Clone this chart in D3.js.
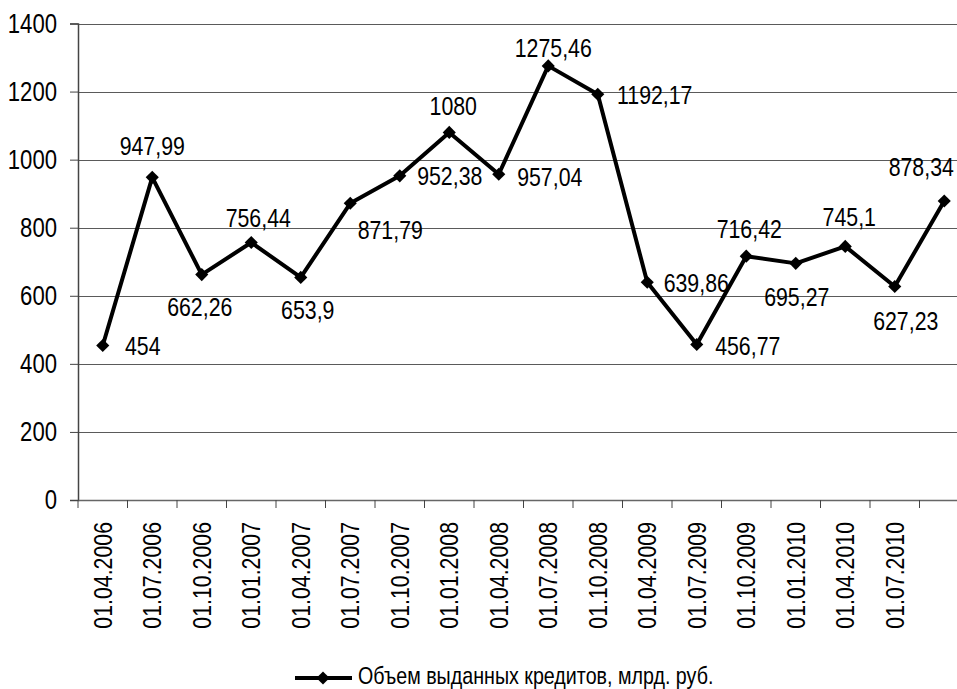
<!DOCTYPE html>
<html lang="ru">
<head>
    <meta charset="UTF-8">
    <script src="https://cdn.jsdelivr.net/npm/d3@7"></script>
    <title>Объем выданных кредитов</title>
    <style>
        body {
            margin: 0;
            background: white;
        }
        text {
            font-family: "Liberation Sans", Arial, sans-serif;
            fill: #000;
        }
    </style>
</head>
<body>
    <div id="chart"></div>
    <script>
        // data
        const dates = ["01.04.2006", "01.07.2006", "01.10.2006", "01.01.2007", "01.04.2007",
            "01.07.2007", "01.10.2007", "01.01.2008", "01.04.2008", "01.07.2008", "01.10.2008",
            "01.04.2009", "01.07.2009", "01.10.2009", "01.01.2010", "01.04.2010", "01.07.2010", ""];
        const values = [454, 947.99, 662.26, 756.44, 653.9, 871.79, 952.38, 1080, 957.04,
            1275.46, 1192.17, 639.86, 456.77, 716.42, 695.27, 745.1, 627.23, 878.34];
        const yTicks = [0, 200, 400, 600, 800, 1000, 1200, 1400];
        const seriesName = "Объем выданных кредитов, млрд. руб.";

        // where each value label sits relative to its point
        const labelShift = [[40, 0], [0, -32], [-2, 32], [7, -25], [7, 32], [40, 26],
            [50, 0], [4, -27], [51, 2], [5, -18], [57, 0], [49, 0], [51, 1],
            [3, -27], [1, 33], [4, -30], [11, 34], [-23, -34]];

        const width = 957, height = 689;
        const margin = { left: 78, top: 23.5, bottom: 189 };
        const plotBottom = height - margin.bottom;
        const squeeze = 0.82; // the original font is a narrow one

        const svg = d3.select("#chart").append("svg")
            .attr("width", width)
            .attr("height", height);

        const x = d3.scaleBand()
            .domain(d3.range(values.length))
            .range([margin.left, margin.left + values.length * 49.5]);

        const y = d3.scaleLinear()
            .domain([0, 1400])
            .range([plotBottom, margin.top]);

        const fmt = v => String(v).replace(".", ",");

        // gridlines
        svg.append("g")
            .selectAll("line")
            .data(yTicks.filter(d => d > 0))
            .enter().append("line")
            .attr("x1", margin.left).attr("x2", width)
            .attr("y1", d => Math.round(y(d)) + 0.5).attr("y2", d => Math.round(y(d)) + 0.5)
            .attr("stroke", "#5a5a5a")
            .attr("stroke-width", 1);

        // y axis
        const yAxis = svg.append("g")
            .attr("transform", `translate(${margin.left},0)`)
            .call(d3.axisLeft(y).tickValues(yTicks).tickFormat(d3.format("d")).tickSize(8));
        yAxis.select(".domain").attr("stroke", "#444").attr("stroke-width", 1.5);
        yAxis.selectAll(".tick line").attr("stroke", "#444");
        yAxis.selectAll("text")
            .attr("font-size", 27)
            .style("font-family", null)
            .attr("x", -21 / squeeze)
            .attr("transform", `scale(${squeeze},1)`);

        // x axis
        const xAxis = svg.append("g")
            .attr("transform", `translate(0,${plotBottom})`)
            .call(d3.axisBottom(x).tickSize(0).tickFormat(i => dates[i]));
        xAxis.select(".domain").attr("stroke", "#666").attr("stroke-width", 1.5);
        xAxis.selectAll("text")
            .attr("font-size", 26)
            .style("font-family", null)
            .attr("transform", `rotate(-90) scale(${squeeze},1)`)
            .attr("text-anchor", "end")
            .attr("dy", "0.35em")
            .attr("x", -22 / squeeze)
            .attr("y", 0);
        // tick marks on band boundaries
        xAxis.selectAll(".bound")
            .data(d3.range(values.length + 1))
            .enter().append("line")
            .attr("x1", i => x.step() * i + margin.left)
            .attr("x2", i => x.step() * i + margin.left)
            .attr("y1", 0).attr("y2", 8)
            .attr("stroke", "#444");

        const cx = i => x(i) + x.bandwidth() / 2;

        // series line
        const line = d3.line()
            .x((d, i) => cx(i))
            .y(d => y(d));

        svg.append("path")
            .datum(values)
            .attr("d", line)
            .attr("fill", "none")
            .attr("stroke", "#000")
            .attr("stroke-width", 4)
            .attr("stroke-linejoin", "round");

        const diamond = d3.symbol().type(d3.symbolDiamond2).size(110);

        svg.append("g")
            .selectAll("path")
            .data(values)
            .enter().append("path")
            .attr("d", diamond)
            .attr("transform", (d, i) => `translate(${cx(i)},${y(d)})`)
            .attr("fill", "#000");

        // value labels
        svg.append("g")
            .selectAll("text")
            .data(values)
            .enter().append("text")
            .attr("transform", (d, i) =>
                `translate(${cx(i) + labelShift[i][0]},${y(d) + labelShift[i][1]}) scale(${squeeze},1)`)
            .attr("text-anchor", "middle")
            .attr("dominant-baseline", "central")
            .attr("font-size", 26)
            .text(d => fmt(d));

        // legend
        const legend = svg.append("g").attr("transform", "translate(295,678)");
        legend.append("line")
            .attr("x1", 0).attr("x2", 57)
            .attr("stroke", "#000").attr("stroke-width", 4);
        legend.append("path")
            .attr("d", diamond)
            .attr("transform", "translate(28,0)");
        legend.append("text")
            .attr("transform", `translate(63,6) scale(${squeeze},1)`)
            .attr("font-size", 24)
            .text(seriesName);
    </script>
</body>
</html>
